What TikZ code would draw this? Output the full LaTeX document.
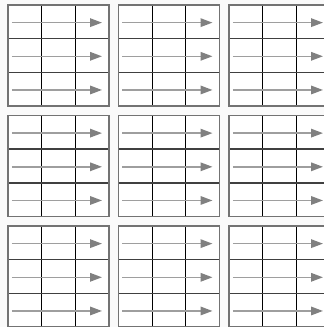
\documentclass[tikz,border=0pt]{standalone}
\usepackage{tikz}
\usetikzlibrary{arrows.meta, calc}
\tikzset{
    block/.style = {rectangle, minimum width=101pt, minimum height=101pt, inner sep=0pt, fill=white},
    cell/.style = {rectangle, minimum width=33.67pt, minimum height=33.67pt, inner sep=0pt},
    border/.style = {draw=black!55, line width=1.5pt},
    vline/.style = {draw=black, line width=0.9pt},
    hline/.style = {draw=black!75, line width=1.4pt},
    arrow/.style = {draw=black!38, line width=1.6pt, shorten <=4.3pt, shorten >=7pt,
        -{Triangle[length=12pt, width=8.5pt, color=black!50]}}
}
\begin{document}
\begin{tikzpicture}[x=1pt, y=-1pt]
\useasboundingbox[fill=black!2] (0,0) rectangle (324,327);

\foreach \bx in {0,1,2}
\foreach \by in {0,1,2} {
    \node (b\bx\by) [block] at (58.5+\bx*110.5, 55.5+\by*110.5) {};
    % cells of the block
    \foreach \r in {0,1,2}
    \foreach \c in {0,1,2}
        \node (b\bx\by-\r\c) [cell] at ($(b\bx\by.north west)+(16.83+\c*33.67, 16.83+\r*33.67)$) {};
    \draw [vline] (b\bx\by-00.north east) -- (b\bx\by-20.south east);
    \draw [vline] (b\bx\by-01.north east) -- (b\bx\by-21.south east);
    \draw [hline] (b\bx\by-00.south west) -- (b\bx\by-02.south east);
    \draw [hline] (b\bx\by-10.south west) -- (b\bx\by-12.south east);
    \draw [border] (b\bx\by.north west) rectangle (b\bx\by.south east);
    % arrows along the rows
    \foreach \r in {0,1,2}
        \draw [arrow] ($(b\bx\by-\r0.west)+(0,1)$) -- ($(b\bx\by-\r2.east)+(0,1)$);
}
\end{tikzpicture}
\end{document}
